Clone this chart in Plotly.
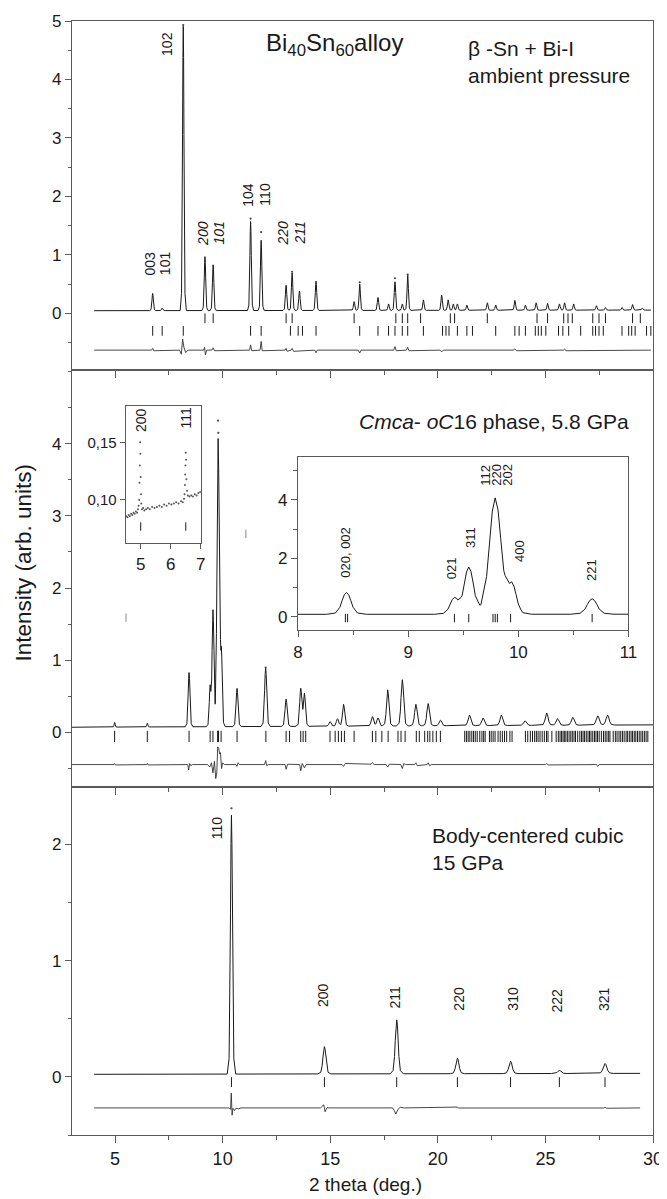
import numpy as np
import plotly.graph_objects as go

# ---------------- DATA ----------------
# Top panel: Bi40Sn60 alloy, ambient pressure
top_base_x = [4.03, 29.9]
top_base_y = [0.045, 0.055]
top_peak_pos = [6.75, 7.19, 8.17, 9.18, 9.56, 11.30, 11.79, 12.95, 13.23, 13.57, 14.34, 16.11, 16.37,
                17.22, 17.71, 18.01, 18.35, 18.60, 19.33, 20.18, 20.48, 20.72, 20.91, 21.35, 22.30, 22.69,
                23.58, 24.07, 24.57, 25.10, 25.65, 25.89, 26.31, 27.37, 27.79, 28.56, 29.05, 29.50]
top_peak_h = [0.34, 0.09, 4.91, 0.97, 0.83, 1.57, 1.25, 0.48, 0.69, 0.38, 0.55, 0.20, 0.50,
              0.27, 0.16, 0.54, 0.16, 0.65, 0.23, 0.31, 0.23, 0.16, 0.16, 0.14, 0.18, 0.14,
              0.22, 0.14, 0.18, 0.17, 0.16, 0.18, 0.16, 0.13, 0.10, 0.10, 0.15, 0.09]
top_peak_w = [0.08] * len(top_peak_pos)
top_obs_x = [8.17, 11.30, 11.79, 13.23, 16.37, 18.01, 18.60]
top_obs_y = [4.93, 1.62, 1.39, 0.71, 0.53, 0.60, 0.66]
top_tick1_x = [9.18, 9.56, 12.95, 13.23, 16.11, 18.05, 18.35, 18.60, 19.20, 20.58, 20.78, 22.30, 24.61,
               25.10, 25.85, 26.05, 26.25, 27.20, 27.49, 27.79, 29.05, 29.41]
top_tick2_x = [6.75, 7.19, 8.17, 11.30, 11.79, 13.15, 13.51, 13.71, 14.34, 16.37, 17.22, 17.71, 18.01,
               18.35, 18.60, 19.33, 20.22, 20.38, 20.52, 20.91, 21.35, 21.61, 22.69, 23.58, 23.78, 24.07,
               24.53, 24.67, 24.81, 25.02, 25.61, 25.81, 26.08, 26.64, 27.20, 27.33, 27.49, 27.69, 28.56,
               28.87, 29.01, 29.17, 29.70, 29.90]
top_tick1_y = -0.085
top_tick2_y = -0.30
top_diff_x = [4.03, 6.70, 6.75, 6.80, 8.00, 8.08, 8.14, 8.20, 8.28, 8.40, 9.12, 9.16, 9.20, 9.26, 9.50,
              9.56, 9.62, 11.25, 11.30, 11.35, 11.74, 11.79, 11.84, 12.90, 12.95, 13.00, 13.18, 13.23,
              13.30, 14.28, 14.34, 14.40, 16.30, 16.37, 16.43, 17.95, 18.01, 18.07, 18.54, 18.60, 18.66,
              20.10, 20.18, 20.26, 23.50, 23.58, 23.66, 25.83, 25.89, 25.95, 29.90]
top_diff_y = [-0.63, -0.63, -0.60, -0.64, -0.63, -0.70, -0.44, -0.58, -0.67, -0.63, -0.63, -0.58, -0.71,
              -0.63, -0.63, -0.59, -0.64, -0.63, -0.54, -0.64, -0.63, -0.48, -0.64, -0.63, -0.60, -0.65,
              -0.63, -0.60, -0.65, -0.63, -0.675, -0.63, -0.63, -0.68, -0.63, -0.63, -0.57, -0.64, -0.63,
              -0.58, -0.64, -0.63, -0.66, -0.63, -0.63, -0.61, -0.64, -0.63, -0.61, -0.64, -0.63]

# Middle panel: Cmca-oC16 phase, 5.8 GPa
mid_base_x = [3.0, 30.0]
mid_base_y = [0.072, 0.105]
mid_peak_pos = [4.98, 6.50, 8.44, 9.42, 9.55, 9.79, 9.94, 10.67, 12.00, 12.95, 13.63, 13.80, 14.99,
                15.34, 15.62, 16.96, 17.22, 17.67, 18.35, 18.98, 19.55, 20.12, 21.47, 22.10, 22.95,
                24.05, 25.06, 25.56, 26.27, 27.43, 27.89]
mid_peak_h = [0.14, 0.13, 0.83, 0.60, 1.68, 4.05, 1.00, 0.61, 0.89, 0.46, 0.60, 0.53, 0.15,
              0.19, 0.39, 0.22, 0.20, 0.59, 0.73, 0.39, 0.40, 0.17, 0.24, 0.20, 0.24,
              0.16, 0.27, 0.19, 0.21, 0.23, 0.24]
mid_peak_w = [0.06, 0.06, 0.10, 0.10, 0.10, 0.13, 0.10, 0.11, 0.12, 0.12, 0.12, 0.12, 0.13,
              0.13, 0.13, 0.14, 0.14, 0.14, 0.15, 0.15, 0.15, 0.15, 0.16, 0.16, 0.16,
              0.17, 0.17, 0.17, 0.17, 0.18, 0.18]
mid_obs_x = [9.79, 9.80, 12.00]
mid_obs_y = [4.32, 4.15, 0.90]
mid_tick_x = [4.98, 6.50, 8.44, 9.42, 9.55, 9.77, 9.79, 9.81, 9.93, 10.67, 12.01, 12.95, 13.11, 13.63,
              13.74, 13.86, 14.99, 15.23, 15.38, 15.52, 15.66, 16.11, 16.96, 17.12, 17.40, 17.69, 18.15,
              18.29, 18.48, 19.00, 19.14, 19.39, 19.53, 19.63, 19.77, 19.93, 20.12,
              21.25, 21.33, 21.41, 21.49, 21.58, 21.66, 21.74, 21.83, 21.95, 22.05, 22.13, 22.20,
              22.40, 22.48, 22.57, 22.66, 22.80, 22.90, 23.00, 23.10, 23.20, 23.35, 23.45,
              24.07, 24.18, 24.30, 24.40, 24.50, 24.58, 24.66, 24.75, 24.85, 24.95, 25.05, 25.12, 25.30,
              25.50, 25.60, 25.68, 25.75, 25.82, 25.88, 25.95, 26.02, 26.10, 26.18, 26.25, 26.33, 26.40,
              26.50, 26.60, 26.68, 26.75, 26.82, 26.90, 26.98, 27.05, 27.12, 27.20, 27.28, 27.35, 27.42,
              27.50, 27.60, 27.70, 27.78, 27.86, 27.94, 28.00, 28.15, 28.25, 28.33, 28.42, 28.50, 28.58,
              28.66, 28.75, 28.82, 28.90, 28.98, 29.05, 29.13, 29.20, 29.28, 29.36, 29.44, 29.52, 29.60,
              29.68, 29.76]
mid_tick_y = -0.055
mid_stray_x = [5.51, 11.08]
mid_stray_y = [1.59, 2.75]
mid_diff_x = [3.0, 4.95, 4.98, 5.02, 6.47, 6.50, 6.54, 8.38, 8.42, 8.47, 8.52, 8.60, 9.30, 9.40, 9.48,
              9.55, 9.62, 9.68, 9.73, 9.77, 9.82, 9.86, 9.90, 9.95, 10.00, 10.08, 10.62, 10.66, 10.72,
              10.78, 11.95, 12.00, 12.05, 12.12, 12.90, 12.95, 13.02, 13.58, 13.63, 13.70, 13.80, 13.88,
              15.55, 15.62, 15.70, 16.90, 16.96, 17.05, 17.60, 17.67, 17.75, 18.28, 18.35, 18.42, 18.50,
              18.92, 18.98, 19.05, 19.50, 19.55, 19.62, 19.70, 25.00, 25.06, 25.12, 27.38, 27.43, 27.50,
              30.0]
mid_diff_y = [-0.445, -0.445, -0.43, -0.45, -0.445, -0.43, -0.45, -0.445, -0.52, -0.43, -0.46, -0.445,
              -0.445, -0.48, -0.42, -0.56, -0.40, -0.64, -0.55, -0.20, -0.22, -0.30, -0.28, -0.50, -0.42,
              -0.445, -0.445, -0.47, -0.42, -0.445, -0.445, -0.39, -0.46, -0.445, -0.445, -0.51, -0.44,
              -0.445, -0.53, -0.43, -0.49, -0.445, -0.445, -0.47, -0.43, -0.44, -0.42, -0.445, -0.445,
              -0.48, -0.44, -0.445, -0.50, -0.43, -0.445, -0.445, -0.42, -0.46, -0.445, -0.42, -0.46,
              -0.445, -0.445, -0.43, -0.45, -0.445, -0.47, -0.445, -0.445]

# Left inset (zoom 4.5-7 deg.)
inset1_x = [4.52, 4.56, 4.60, 4.64, 4.68, 4.72, 4.76, 4.80, 4.84, 4.88, 4.91, 4.93, 4.95, 4.96, 4.97,
            4.98, 4.99, 5.00, 5.01, 5.02, 5.04, 5.08, 5.12, 5.18, 5.24, 5.30, 5.38, 5.46, 5.54, 5.62,
            5.70, 5.78, 5.86, 5.94, 6.02, 6.10, 6.18, 6.26, 6.34, 6.40, 6.44, 6.46, 6.47, 6.48, 6.49,
            6.50, 6.51, 6.52, 6.54, 6.57, 6.62, 6.68, 6.74, 6.80, 6.86, 6.92, 6.98]
inset1_y = [0.086, 0.085, 0.087, 0.086, 0.088, 0.087, 0.089, 0.088, 0.090, 0.089, 0.092, 0.095, 0.100,
            0.115, 0.130, 0.150, 0.140, 0.120, 0.105, 0.097, 0.092, 0.093, 0.091, 0.092, 0.093, 0.092,
            0.094, 0.093, 0.094, 0.095, 0.094, 0.096, 0.095, 0.097, 0.096, 0.097, 0.098, 0.097, 0.099,
            0.098, 0.101, 0.105, 0.113, 0.122, 0.130, 0.141, 0.135, 0.118, 0.108, 0.104, 0.103, 0.104,
            0.103, 0.105, 0.104, 0.106, 0.107]
inset1_tick_x = [5.0, 6.5]
inset1_tick_y = 0.077

# Right inset (zoom 8-11 deg.) uses the middle-panel peak table
inset2_tick_x = [8.43, 8.45, 9.42, 9.55, 9.77, 9.79, 9.81, 9.93, 10.67]
inset2_tick_y = -0.05

# Bottom panel: body-centered cubic, 15 GPa
bot_base_x = [4.03, 29.4]
bot_base_y = [0.022, 0.030]
bot_peak_pos = [10.41, 14.73, 18.09, 20.91, 23.38, 25.65, 27.77]
bot_peak_h = [2.25, 0.26, 0.49, 0.16, 0.135, 0.055, 0.115]
bot_peak_w = [0.11, 0.17, 0.17, 0.18, 0.19, 0.20, 0.21]
bot_obs_x = [10.41]
bot_obs_y = [2.31]
bot_tick_y = -0.045
bot_diff_x = [4.03, 10.30, 10.37, 10.40, 10.44, 10.48, 10.55, 10.62, 10.75, 10.85, 14.55, 14.62, 14.70,
              14.76, 14.85, 14.95, 17.90, 17.98, 18.05, 18.15, 18.25, 18.45, 20.85, 20.90, 20.97, 23.30,
              23.38, 23.45, 27.70, 27.77, 27.85, 29.4]
bot_diff_y = [-0.267, -0.267, -0.28, -0.14, -0.33, -0.27, -0.29, -0.27, -0.275, -0.267, -0.267, -0.25,
              -0.24, -0.30, -0.265, -0.267, -0.267, -0.29, -0.32, -0.28, -0.262, -0.267, -0.265, -0.26,
              -0.268, -0.267, -0.262, -0.268, -0.268, -0.262, -0.27, -0.267]

# Labels: (text, x, y)
top_hkl = [("003", 6.62, 0.85), ("101", 7.30, 0.85), ("102", 7.44, 4.60),
           ("<i>200</i>", 9.12, 1.37), ("<i>101</i>", 9.85, 1.37),
           ("104", 11.14, 2.03), ("110", 11.97, 2.03),
           ("<i>220</i>", 12.82, 1.37), ("<i>211</i>", 13.61, 1.37)]
inset1_hkl = [("200", 5.03, 0.169), ("111", 6.52, 0.171)]
inset2_hkl = [("020, 002", 8.43, 2.2), ("021", 9.39, 1.66), ("311", 9.56, 2.72),
              ("112", 9.695, 4.85), ("220", 9.795, 4.85), ("202", 9.895, 4.85),
              ("400", 10.01, 2.26), ("221", 10.67, 1.60)]
bot_hkl = [("110", 9.75, 2.14), ("200", 14.69, 0.70), ("211", 18.01, 0.69), ("220", 20.97, 0.67),
           ("310", 23.48, 0.67), ("222", 25.56, 0.66), ("321", 27.73, 0.67)]

# ---------------- STYLE ----------------
FONT = "Liberation Sans, Arial, sans-serif"
INK = "#1a1a1a"
AXC = "#5a5a5a"
PROFILE_OFFSETS = np.array([-1.8, -1.0, -0.6, -0.4, -0.2, 0.0, 0.2, 0.4, 0.6, 1.0, 1.8])
PROFILE_FRACS = np.array([0.0, 0.06, 0.32, 0.62, 0.89, 1.0, 0.89, 0.62, 0.32, 0.06, 0.0])


def build_curve(pos, heights, widths, base_x, base_y, x0, x1):
    pts = [x0, x1]
    for p, w in zip(pos, widths):
        pts.extend(p + PROFILE_OFFSETS * w)
    xs = np.unique(np.clip(np.array(pts), x0, x1))
    ys = np.interp(xs, base_x, base_y)
    for p, h, w in zip(pos, heights, widths):
        b = np.interp(p, base_x, base_y)
        ys = ys + np.interp(xs, p + PROFILE_OFFSETS * w, (h - b) * PROFILE_FRACS, left=0, right=0)
    return xs, ys


fig = go.Figure()


def line(x, y, xa, ya, width=1.0, color=INK):
    fig.add_trace(go.Scatter(x=x, y=y, xaxis=xa, yaxis=ya, mode="lines",
                             line=dict(color=color, width=width), hoverinfo="skip"))


def ticks(x, yval, xa, ya, size=7, color=INK):
    fig.add_trace(go.Scatter(x=x, y=[yval] * len(x), xaxis=xa, yaxis=ya, mode="markers",
                             marker=dict(symbol="line-ns", size=size, line=dict(color=color, width=1)),
                             hoverinfo="skip"))


def dots(x, y, xa, ya, size=2.2, color="#444"):
    fig.add_trace(go.Scatter(x=x, y=y, xaxis=xa, yaxis=ya, mode="markers",
                             marker=dict(size=size, color=color), hoverinfo="skip"))


# top panel
tx, ty = build_curve(top_peak_pos, top_peak_h, top_peak_w, top_base_x, top_base_y, 4.03, 29.9)
line(tx, ty, "x3", "y3")
dots(top_obs_x, top_obs_y, "x3", "y3")
ticks(top_tick1_x, top_tick1_y, "x3", "y3")
ticks(top_tick2_x, top_tick2_y, "x3", "y3")
line(top_diff_x, top_diff_y, "x3", "y3", width=0.9, color="#333")

# middle panel
mx, my = build_curve(mid_peak_pos, mid_peak_h, mid_peak_w, mid_base_x, mid_base_y, 3.0, 30.0)
line(mx, my, "x2", "y2")
dots(mid_obs_x, mid_obs_y, "x2", "y2")
ticks(mid_tick_x, mid_tick_y, "x2", "y2", size=8)
fig.add_trace(go.Scatter(x=mid_stray_x, y=mid_stray_y, xaxis="x2", yaxis="y2", mode="markers",
                         marker=dict(symbol="line-ns", size=6, line=dict(color="#888", width=1)),
                         hoverinfo="skip"))
line(mid_diff_x, mid_diff_y, "x2", "y2", width=0.9, color="#333")

# bottom panel
bx, by = build_curve(bot_peak_pos, bot_peak_h, bot_peak_w, bot_base_x, bot_base_y, 4.03, 29.4)
line(bx, by, "x", "y")
dots(bot_obs_x, bot_obs_y, "x", "y")
ticks(bot_peak_pos, bot_tick_y, "x", "y")
line(bot_diff_x, bot_diff_y, "x", "y", width=0.9, color="#333")

# left inset
dots(inset1_x, inset1_y, "x4", "y4", size=2.0, color="#555")
ticks(inset1_tick_x, inset1_tick_y, "x4", "y4", size=6)

# right inset
ix, iy = build_curve(mid_peak_pos, mid_peak_h, mid_peak_w, mid_base_x, mid_base_y, 8.0, 11.0)
line(ix, iy, "x5", "y5")
ticks(inset2_tick_x, inset2_tick_y, "x5", "y5", size=6)

# ---------------- LAYOUT ----------------
# The page adds an 8 px body margin, so the figure is 8 px smaller and the
# margins are reduced on the top/left to keep the plot area at the reference spot.
D_BOT = [0.0, 0.3121]
D_MID = [0.3121, 0.6867]
D_TOP = [0.6867, 1.0]

xcommon = dict(range=[3, 30], tickvals=[5, 10, 15, 20, 25, 30], ticks="outside", ticklen=7,
               tickwidth=1, tickcolor=AXC, showline=True, linecolor=AXC, linewidth=1.3, mirror=True,
               showgrid=False, zeroline=False, automargin=False,
               minor=dict(ticks="outside", dtick=2.5, tick0=0, ticklen=4, tickcolor=AXC),
               tickfont=dict(family=FONT, size=18, color=INK))
ycommon = dict(ticks="outside", ticklen=6, tickwidth=1, tickcolor=AXC, showline=True, linecolor=AXC,
               linewidth=1.3, mirror=True, showgrid=False, zeroline=False, automargin=False,
               minor=dict(ticks="outside", dtick=0.5, tick0=0, ticklen=3, tickcolor=AXC),
               tickfont=dict(family=FONT, size=17, color=INK))
inset_common = dict(ticks="outside", tickcolor=AXC, showline=True, linecolor=AXC, linewidth=1.2,
                    mirror=True, showgrid=False, zeroline=False, automargin=False)

fig.update_layout(
    width=659, height=1191, margin=dict(l=64, r=14, t=13, b=64),
    paper_bgcolor="white", plot_bgcolor="white", showlegend=False,
    xaxis=dict(xcommon, domain=[0, 1], anchor="y"),
    xaxis2=dict(xcommon, domain=[0, 1], anchor="y2", showticklabels=False),
    xaxis3=dict(xcommon, domain=[0, 1], anchor="y3", showticklabels=False),
    yaxis=dict(ycommon, domain=D_BOT, anchor="x", range=[-0.5, 2.49], tickvals=[0, 1, 2]),
    yaxis2=dict(ycommon, domain=D_MID, anchor="x2", range=[-0.76, 5.02], tickvals=[0, 1, 2, 3, 4]),
    yaxis3=dict(ycommon, domain=D_TOP, anchor="x3", range=[-0.97, 5.0], tickvals=[0, 1, 2, 3, 4, 5]),
    xaxis4=dict(inset_common, domain=[0.0924, 0.2217], anchor="y4", range=[4.5, 7], tickvals=[5, 6, 7],
                ticklen=5, tickfont=dict(family=FONT, size=17, color=INK)),
    yaxis4=dict(inset_common, domain=[0.5312, 0.6544], anchor="x4", range=[0.0625, 0.1815],
                tickvals=[0.10, 0.15], ticktext=["0,10", "0,15"], ticklen=5,
                tickfont=dict(family=FONT, size=15, color=INK)),
    xaxis5=dict(inset_common, domain=[0.389, 0.9578], anchor="y5", range=[8, 11],
                tickvals=[8, 9, 10, 11], ticklen=6,
                minor=dict(ticks="outside", dtick=0.5, tick0=0, ticklen=4, tickcolor=AXC),
                tickfont=dict(family=FONT, size=17, color=INK)),
    yaxis5=dict(inset_common, domain=[0.4533, 0.6089], anchor="x5", range=[-0.46, 5.48],
                tickvals=[0, 2, 4], ticklen=6,
                minor=dict(ticks="outside", dtick=1, tick0=0, ticklen=4, tickcolor=AXC),
                tickfont=dict(family=FONT, size=17, color=INK)),
)

ann = []


def hkl(labels, xa, ya, size=14):
    for t, x, y in labels:
        ann.append(dict(text=t, x=x, y=y, xref=xa, yref=ya, textangle=-90, showarrow=False,
                        xanchor="center", yanchor="middle",
                        font=dict(family=FONT, size=size, color=INK)))


def text(t, x, y, xa, ya, size=21, xanchor="left"):
    ann.append(dict(text=t, x=x, y=y, xref=xa, yref=ya, showarrow=False, xanchor=xanchor,
                    yanchor="middle", align="left", font=dict(family=FONT, size=size, color=INK)))


hkl(top_hkl, "x3", "y3")
hkl(inset1_hkl, "x4", "y4")
hkl(inset2_hkl, "x5", "y5", size=13)
hkl(bot_hkl, "x", "y")

text("Bi<sub>40</sub>Sn<sub>60</sub>alloy", 15.2, 4.59, "x3", "y3", size=24, xanchor="center")
text("\u03b2 -Sn + Bi-I<br>ambient pressure", 21.3, 4.30, "x3", "y3")
text("<i>Cmca</i>- <i>oC</i>16 phase, 5.8 GPa", 29.0, 4.30, "x2", "y2", xanchor="right")
text("Body-centered cubic<br>15 GPa", 19.63, 1.96, "x", "y")

ann.append(dict(text="Intensity (arb. units)", x=-0.084, y=0.514, xref="paper", yref="paper",
                textangle=-90, showarrow=False, xanchor="center", yanchor="middle",
                font=dict(family=FONT, size=22.5, color=INK)))
ann.append(dict(text="2 theta (deg.)", x=0.506, y=-0.044, xref="paper", yref="paper",
                showarrow=False, xanchor="center", yanchor="middle",
                font=dict(family=FONT, size=19, color=INK)))

fig.update_layout(annotations=ann)
fig.write_html("out.html")
